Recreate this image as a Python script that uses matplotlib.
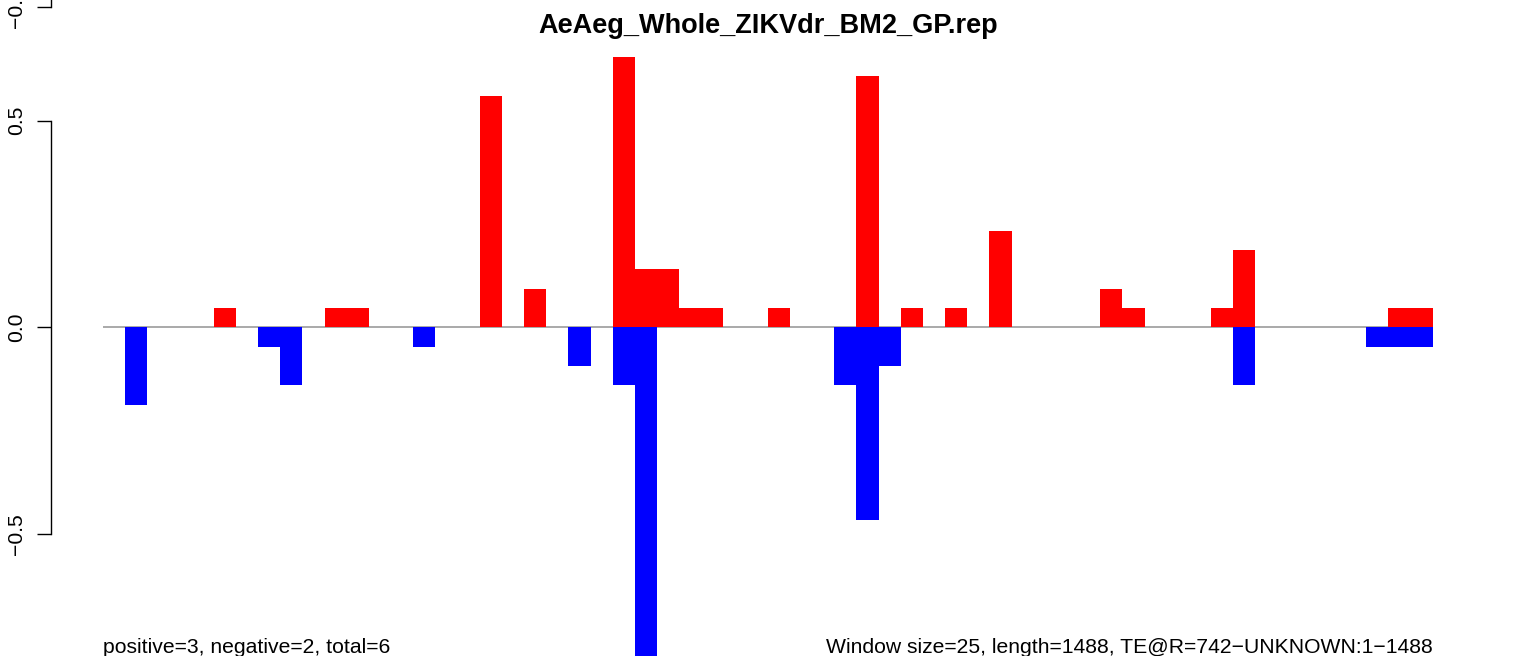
import numpy as np
import matplotlib
matplotlib.use('Agg')
import matplotlib.pyplot as plt
from matplotlib.transforms import blended_transform_factory

plt.rcParams['font.family'] = ['Liberation Sans', 'DejaVu Sans']

# Data: 60 windows of 25 bp, positive and negative strand scores per window
n_windows = 60
pos_idx = [5, 10, 11, 17, 19, 23, 24, 25, 26, 27, 30, 34, 36, 38, 40, 45, 46, 50, 51, 58, 59]
pos_val = [0.047, 0.047, 0.047, 0.560, 0.093, 0.653, 0.140, 0.140, 0.047, 0.047, 0.047,
           0.607, 0.047, 0.047, 0.233, 0.093, 0.047, 0.047, 0.187, 0.047, 0.047]
neg_idx = [1, 7, 8, 14, 21, 23, 24, 33, 34, 35, 51, 57, 58, 59]
neg_val = [-0.187, -0.047, -0.140, -0.047, -0.093, -0.140, -0.800, -0.140, -0.467,
           -0.093, -0.140, -0.047, -0.047, -0.047]

title = 'AeAeg_Whole_ZIKVdr_BM2_GP.rep'
left_note = 'positive=3, negative=2, total=6'
right_note = 'Window size=25, length=1488, TE@R=742\u2212UNKNOWN:1\u22121488'

W, H = 1536, 656
fig = plt.figure(figsize=(W / 100, H / 100), dpi=100)

# plot region in pixels, R-style 4% padding around 0..n
px_left, px_right = 51, 1486
x0_px, unit_px = 103, 22.16
xlim = ((px_left - x0_px) / unit_px, (px_right - x0_px) / unit_px)
zero_px, yunit_px = 327.3, 413.5
ylim = (-(H - zero_px) / yunit_px, zero_px / yunit_px)

ax = fig.add_axes([px_left / W, 0, (px_right - px_left) / W, 1])
ax.set_xlim(*xlim)
ax.set_ylim(*ylim)

ax.hlines(0, 0, n_windows, color='#a9a9a9', lw=1.4, zorder=1)
ax.bar(pos_idx, pos_val, width=1, align='edge', color='#ff0000', lw=0, zorder=2)
ax.bar(neg_idx, neg_val, width=1, align='edge', color='#0000ff', lw=0, zorder=2)

for s in ['top', 'right', 'bottom']:
    ax.spines[s].set_visible(False)
ax.spines['left'].set_bounds(-0.5, 0.5)
ax.spines['left'].set_linewidth(1.0)
ax.set_xticks([])
ax.set_yticks([-0.5, 0.0, 0.5])
ax.set_yticklabels(['\u22120.5', '0.0', '0.5'], rotation=90, va='center')
ax.tick_params(axis='y', length=10, width=1.0, labelsize=15.25, pad=8)

# bottom of the axis from the panel above
ax_up = fig.add_axes([px_left / W, 1 - 7 / H, (px_right - px_left) / W, 0.5])
ax_up.set_ylim(-0.5, 0.5)
ax_up.patch.set_visible(False)
for s in ['top', 'right', 'bottom']:
    ax_up.spines[s].set_visible(False)
ax_up.spines['left'].set_linewidth(1.0)
ax_up.set_xticks([])
ax_up.set_yticks([-0.5])
ax_up.set_yticklabels(['\u22120.5'], rotation=90, va='center')
ax_up.tick_params(axis='y', length=10, width=1.0, labelsize=15.25, pad=8)

fig.text(0.5, 1 - 33 / H, title, ha='center', va='baseline',
         fontsize=19.5, fontweight='bold')

tr = blended_transform_factory(ax.transData, fig.transFigure)
ax.text(0, 1 - 653 / H, left_note, transform=tr, ha='left', va='baseline', fontsize=15.25)
ax.text(n_windows, 1 - 653 / H, right_note, transform=tr, ha='right', va='baseline', fontsize=15.25)

fig.savefig('out.png', dpi=100)
